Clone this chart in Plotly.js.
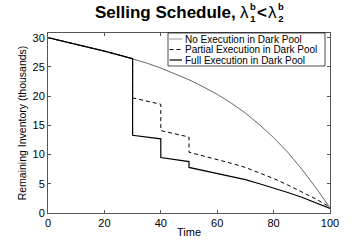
<!DOCTYPE html>
<html>
<head>
<meta charset="utf-8">
<script src="https://cdn.plot.ly/plotly-3.0.1.min.js"></script>
<style>html,body{margin:0;padding:0;background:#fff;}#chart{width:364px;height:240px;}</style>
</head>
<body>
<div id="chart"></div>
<script>
// No execution in dark pool
var tNo = [0, 5, 10, 15, 20, 25, 30, 35, 40, 45, 50, 55, 60, 65, 70, 75, 80, 85, 90, 95, 100];
var noExec = [30, 29.45, 28.88, 28.3, 27.7, 27.06, 26.4, 25.65, 24.8, 23.85, 22.8, 21.6, 20.3, 18.8, 17.1, 15.1, 12.9, 10.4, 7.5, 4.3, 0.9];

// Partial / full execution in dark pool (jumps at 30, 40, 50)
var tJump = [0, 5, 10, 15, 20, 25, 30, 30, 35, 40, 40, 45, 50, 50, 55, 60, 65, 70, 75, 80, 85, 90, 95, 100];
var partialExec = [30, 29.45, 28.88, 28.3, 27.7, 27.06, 26.4, 19.7, 19.2, 18.6, 14.1, 13.55, 13.0, 10.4, 9.8, 9.2, 8.5, 7.8, 6.9, 5.9, 4.8, 3.6, 2.4, 1.0];
var fullExec = [30, 29.45, 28.88, 28.3, 27.7, 27.06, 26.4, 13.3, 13.0, 12.7, 9.5, 9.15, 8.8, 7.8, 7.3, 6.8, 6.3, 5.7, 5.0, 4.3, 3.5, 2.7, 1.8, 0.8];

var seriesNames = ['No Execution in Dark Pool', 'Partial Execution in Dark Pool', 'Full Execution in Dark Pool'];
var xTicks = [0, 20, 40, 60, 80, 100];
var yTicks = [0, 5, 10, 15, 20, 25, 30];

var font = 'Liberation Sans, Arial, Helvetica, sans-serif';
var W = 364, H = 240;
var M = {l: 48, r: 34, t: 33, b: 27};
var PW = W - M.l - M.r, PH = H - M.t - M.b;
function px2x(px) { return (px - M.l) / PW; }
function py2y(py) { return (H - M.b - py) / PH; }

var seriesStyles = [
  {color: '#555', width: 0.9, dash: 'solid'},
  {color: '#000', width: 1, dash: '4px,3px'},
  {color: '#000', width: 1.2, dash: 'solid'}
];
var legendDash = ['1px,1px', '4px,3px', 'solid'];

var traces = [
  {x: tNo, y: noExec, name: seriesNames[0], mode: 'lines', line: seriesStyles[0]},
  {x: tJump, y: partialExec, name: seriesNames[1], mode: 'lines', line: seriesStyles[1]},
  {x: tJump, y: fullExec, name: seriesNames[2], mode: 'lines', line: seriesStyles[2]}
];

// --- text measurement for the stacked title ---
var cv = document.createElement('canvas').getContext('2d');
function tw(text, size, bold) {
  cv.font = (bold ? 'bold ' : '') + size + 'px "Liberation Sans"';
  return cv.measureText(text).width;
}

var annotations = [];
var shapes = [];
function addText(text, px, py, size, bold, anchor) {
  annotations.push({
    text: bold ? '<b>' + text + '</b>' : text,
    xref: 'paper', yref: 'paper', x: px2x(px), y: py2y(py),
    xanchor: anchor || 'left', yanchor: 'middle', showarrow: false, borderpad: 0,
    font: {family: font, size: size, color: '#000'}
  });
}

// Title: "Selling Schedule, λ_1^b < λ_2^b" with stacked sub/superscripts
var mainTxt = 'Selling Schedule, ';
var tSize = 17, sSize = 9.5;
var wMain = tw(mainTxt, tSize, true);
var wLam = tw('λ', tSize, false);
var wScr = Math.max(tw('b', sSize, true), tw('1', sSize, true));
var wLt = tw('<', tSize, true);
var total = wMain + wLam + wScr + wLt + wLam + wScr + 5;
var cx = 188.5;
var x0 = cx - total / 2;
var yMain = 13, yScr = 13;
addText(mainTxt.trim(), x0, yMain, tSize, true);
var xp = x0 + wMain;
addText('λ', xp, yMain, tSize, false); xp += wLam + 1;
addText('b<br>1', xp, yScr, sSize, true); xp += wScr + 1.5;
addText('&lt;', xp, yMain, tSize, true); xp += wLt + 1;
addText('λ', xp, yMain, tSize, false); xp += wLam + 1;
addText('b<br>2', xp, yScr, sSize, true);

// Custom compact legend (MATLAB style)
var lg = {x0: 168, x1: 325, y0: 33, y1: 66};
shapes.push({type: 'rect', xref: 'paper', yref: 'paper',
  x0: px2x(lg.x0), x1: px2x(lg.x1), y0: py2y(lg.y1), y1: py2y(lg.y0),
  line: {color: '#000', width: 0.7}, fillcolor: '#fff', layer: 'above'});
var rowY = [39, 49.5, 60];
for (var i = 0; i < 3; i++) {
  shapes.push({type: 'line', xref: 'paper', yref: 'paper',
    x0: px2x(169.5), x1: px2x(182), y0: py2y(rowY[i]), y1: py2y(rowY[i]),
    line: {color: i === 0 ? '#333' : '#000', width: i === 2 ? 1.2 : 1, dash: legendDash[i]}, layer: 'above'});
  addText(seriesNames[i], 183.5, rowY[i], 10, false);
}

var axisCommon = {
  showgrid: false, zeroline: false, showline: true, mirror: 'ticks',
  linecolor: '#555', linewidth: 1, ticks: 'inside', ticklen: 3, tickcolor: '#555',
  tickfont: {family: font, size: 11, color: '#000'}
};

var layout = {
  width: W, height: H,
  margin: M,
  paper_bgcolor: '#fff', plot_bgcolor: '#fff',
  font: {family: font, color: '#000'},
  xaxis: Object.assign({}, axisCommon, {
    range: [0, 100], tickvals: xTicks,
    title: {text: 'Time', font: {family: font, size: 11}, standoff: 0}
  }),
  yaxis: Object.assign({}, axisCommon, {
    range: [0, 30.8], tickvals: yTicks,
    title: {text: 'Remaining Inventory (thousands)', font: {family: font, size: 10.5}, standoff: 3}
  }),
  showlegend: false,
  annotations: annotations,
  shapes: shapes
};

Plotly.newPlot('chart', traces, layout, {displayModeBar: false, staticPlot: true});
</script>
</body>
</html>
